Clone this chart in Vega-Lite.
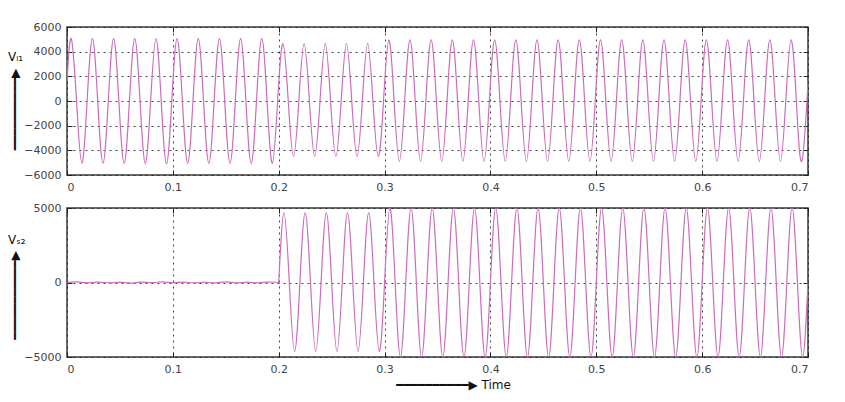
{
  "$schema": "https://vega.github.io/schema/vega-lite/v6.json",
  "padding": {"left": 7, "top": 20, "right": 5, "bottom": 5},
  "background": "white",
  "spacing": 33,
  "bounds": "flush",
  "datasets": {
    "vl1": [
      {"t":0,"v":1560},
      {"t":0.004,"v":5050},{"t":0.009,"v":0},{"t":0.014,"v":-5050},{"t":0.019,"v":0},
      {"t":0.024,"v":5050},{"t":0.029,"v":0},{"t":0.034,"v":-5050},{"t":0.039,"v":0},
      {"t":0.044,"v":5050},{"t":0.049,"v":0},{"t":0.054,"v":-5050},{"t":0.059,"v":0},
      {"t":0.064,"v":5050},{"t":0.069,"v":0},{"t":0.074,"v":-5050},{"t":0.079,"v":0},
      {"t":0.084,"v":5050},{"t":0.089,"v":0},{"t":0.094,"v":-5100},{"t":0.099,"v":0},
      {"t":0.104,"v":5050},{"t":0.109,"v":0},{"t":0.114,"v":-5050},{"t":0.119,"v":0},
      {"t":0.124,"v":5050},{"t":0.129,"v":0},{"t":0.134,"v":-5050},{"t":0.139,"v":0},
      {"t":0.144,"v":5050},{"t":0.149,"v":0},{"t":0.154,"v":-5050},{"t":0.159,"v":0},
      {"t":0.164,"v":5050},{"t":0.169,"v":0},{"t":0.174,"v":-5050},{"t":0.179,"v":0},
      {"t":0.184,"v":5050},{"t":0.189,"v":0},{"t":0.194,"v":-5050},{"t":0.199,"v":0},
      {"t":0.204,"v":4650},{"t":0.209,"v":0},{"t":0.214,"v":-4500},{"t":0.219,"v":0},
      {"t":0.224,"v":4650},{"t":0.229,"v":0},{"t":0.234,"v":-4500},{"t":0.239,"v":0},
      {"t":0.244,"v":4650},{"t":0.249,"v":0},{"t":0.254,"v":-4500},{"t":0.259,"v":0},
      {"t":0.264,"v":4650},{"t":0.269,"v":0},{"t":0.274,"v":-4500},{"t":0.279,"v":0},
      {"t":0.284,"v":4650},{"t":0.289,"v":0},{"t":0.294,"v":-4500},{"t":0.299,"v":0},
      {"t":0.304,"v":4950},{"t":0.309,"v":0},{"t":0.314,"v":-4900},{"t":0.319,"v":0},
      {"t":0.324,"v":4950},{"t":0.329,"v":0},{"t":0.334,"v":-4900},{"t":0.339,"v":0},
      {"t":0.344,"v":4950},{"t":0.349,"v":0},{"t":0.354,"v":-4900},{"t":0.359,"v":0},
      {"t":0.364,"v":4950},{"t":0.369,"v":0},{"t":0.374,"v":-4900},{"t":0.379,"v":0},
      {"t":0.384,"v":4950},{"t":0.389,"v":0},{"t":0.394,"v":-4900},{"t":0.399,"v":0},
      {"t":0.404,"v":4950},{"t":0.409,"v":0},{"t":0.414,"v":-4900},{"t":0.419,"v":0},
      {"t":0.424,"v":4950},{"t":0.429,"v":0},{"t":0.434,"v":-4900},{"t":0.439,"v":0},
      {"t":0.444,"v":4950},{"t":0.449,"v":0},{"t":0.454,"v":-4900},{"t":0.459,"v":0},
      {"t":0.464,"v":4950},{"t":0.469,"v":0},{"t":0.474,"v":-4900},{"t":0.479,"v":0},
      {"t":0.484,"v":4950},{"t":0.489,"v":0},{"t":0.494,"v":-4900},{"t":0.499,"v":0},
      {"t":0.504,"v":4950},{"t":0.509,"v":0},{"t":0.514,"v":-4900},{"t":0.519,"v":0},
      {"t":0.524,"v":4950},{"t":0.529,"v":0},{"t":0.534,"v":-4900},{"t":0.539,"v":0},
      {"t":0.544,"v":4950},{"t":0.549,"v":0},{"t":0.554,"v":-4900},{"t":0.559,"v":0},
      {"t":0.564,"v":4950},{"t":0.569,"v":0},{"t":0.574,"v":-4900},{"t":0.579,"v":0},
      {"t":0.584,"v":4950},{"t":0.589,"v":0},{"t":0.594,"v":-4900},{"t":0.599,"v":0},
      {"t":0.604,"v":4950},{"t":0.609,"v":0},{"t":0.614,"v":-4900},{"t":0.619,"v":0},
      {"t":0.624,"v":4950},{"t":0.629,"v":0},{"t":0.634,"v":-4900},{"t":0.639,"v":0},
      {"t":0.644,"v":4950},{"t":0.649,"v":0},{"t":0.654,"v":-4900},{"t":0.659,"v":0},
      {"t":0.664,"v":4950},{"t":0.669,"v":0},{"t":0.674,"v":-4900},{"t":0.679,"v":0},
      {"t":0.684,"v":4950},{"t":0.689,"v":0},{"t":0.694,"v":-4900},{"t":0.699,"v":0},
      {"t":0.7,"v":1530}
    ],
    "vs2": [
      {"seg":"a","t":0,"v":10},{"seg":"a","t":0.01,"v":40},{"seg":"a","t":0.02,"v":-20},{"seg":"a","t":0.03,"v":30},{"seg":"a","t":0.04,"v":-30},
      {"seg":"a","t":0.05,"v":20},{"seg":"a","t":0.06,"v":-40},{"seg":"a","t":0.07,"v":30},{"seg":"a","t":0.08,"v":-10},{"seg":"a","t":0.09,"v":40},
      {"seg":"a","t":0.1,"v":-20},{"seg":"a","t":0.11,"v":30},{"seg":"a","t":0.12,"v":-30},{"seg":"a","t":0.13,"v":20},{"seg":"a","t":0.14,"v":-20},
      {"seg":"a","t":0.15,"v":40},{"seg":"a","t":0.16,"v":-30},{"seg":"a","t":0.17,"v":20},{"seg":"a","t":0.18,"v":-20},{"seg":"a","t":0.19,"v":30},
      {"seg":"a","t":0.2,"v":0},
      {"seg":"b","t":0.2,"v":0},
      {"seg":"b","t":0.205,"v":4680},{"seg":"b","t":0.21,"v":0},{"seg":"b","t":0.215,"v":-4620},{"seg":"b","t":0.22,"v":0},
      {"seg":"b","t":0.225,"v":4680},{"seg":"b","t":0.23,"v":0},{"seg":"b","t":0.235,"v":-4620},{"seg":"b","t":0.24,"v":0},
      {"seg":"b","t":0.245,"v":4680},{"seg":"b","t":0.25,"v":0},{"seg":"b","t":0.255,"v":-4620},{"seg":"b","t":0.26,"v":0},
      {"seg":"b","t":0.265,"v":4680},{"seg":"b","t":0.27,"v":0},{"seg":"b","t":0.275,"v":-4620},{"seg":"b","t":0.28,"v":0},
      {"seg":"b","t":0.285,"v":4680},{"seg":"b","t":0.29,"v":0},{"seg":"b","t":0.295,"v":-4620},{"seg":"b","t":0.3,"v":0},
      {"seg":"b","t":0.305,"v":5000},{"seg":"b","t":0.31,"v":0},{"seg":"b","t":0.315,"v":-5000},{"seg":"b","t":0.32,"v":0},
      {"seg":"b","t":0.325,"v":5000},{"seg":"b","t":0.33,"v":0},{"seg":"b","t":0.335,"v":-5000},{"seg":"b","t":0.34,"v":0},
      {"seg":"b","t":0.345,"v":5000},{"seg":"b","t":0.35,"v":0},{"seg":"b","t":0.355,"v":-5000},{"seg":"b","t":0.36,"v":0},
      {"seg":"b","t":0.365,"v":5000},{"seg":"b","t":0.37,"v":0},{"seg":"b","t":0.375,"v":-5000},{"seg":"b","t":0.38,"v":0},
      {"seg":"b","t":0.385,"v":5000},{"seg":"b","t":0.39,"v":0},{"seg":"b","t":0.395,"v":-5000},{"seg":"b","t":0.4,"v":0},
      {"seg":"b","t":0.405,"v":5000},{"seg":"b","t":0.41,"v":0},{"seg":"b","t":0.415,"v":-5000},{"seg":"b","t":0.42,"v":0},
      {"seg":"b","t":0.425,"v":5000},{"seg":"b","t":0.43,"v":0},{"seg":"b","t":0.435,"v":-5000},{"seg":"b","t":0.44,"v":0},
      {"seg":"b","t":0.445,"v":5000},{"seg":"b","t":0.45,"v":0},{"seg":"b","t":0.455,"v":-5000},{"seg":"b","t":0.46,"v":0},
      {"seg":"b","t":0.465,"v":5000},{"seg":"b","t":0.47,"v":0},{"seg":"b","t":0.475,"v":-5000},{"seg":"b","t":0.48,"v":0},
      {"seg":"b","t":0.485,"v":5000},{"seg":"b","t":0.49,"v":0},{"seg":"b","t":0.495,"v":-5000},{"seg":"b","t":0.5,"v":0},
      {"seg":"b","t":0.505,"v":5000},{"seg":"b","t":0.51,"v":0},{"seg":"b","t":0.515,"v":-5000},{"seg":"b","t":0.52,"v":0},
      {"seg":"b","t":0.525,"v":5000},{"seg":"b","t":0.53,"v":0},{"seg":"b","t":0.535,"v":-5000},{"seg":"b","t":0.54,"v":0},
      {"seg":"b","t":0.545,"v":5000},{"seg":"b","t":0.55,"v":0},{"seg":"b","t":0.555,"v":-5000},{"seg":"b","t":0.56,"v":0},
      {"seg":"b","t":0.565,"v":5000},{"seg":"b","t":0.57,"v":0},{"seg":"b","t":0.575,"v":-5000},{"seg":"b","t":0.58,"v":0},
      {"seg":"b","t":0.585,"v":5000},{"seg":"b","t":0.59,"v":0},{"seg":"b","t":0.595,"v":-5000},{"seg":"b","t":0.6,"v":0},
      {"seg":"b","t":0.605,"v":5000},{"seg":"b","t":0.61,"v":0},{"seg":"b","t":0.615,"v":-5000},{"seg":"b","t":0.62,"v":0},
      {"seg":"b","t":0.625,"v":5000},{"seg":"b","t":0.63,"v":0},{"seg":"b","t":0.635,"v":-5000},{"seg":"b","t":0.64,"v":0},
      {"seg":"b","t":0.645,"v":5000},{"seg":"b","t":0.65,"v":0},{"seg":"b","t":0.655,"v":-5000},{"seg":"b","t":0.66,"v":0},
      {"seg":"b","t":0.665,"v":5000},{"seg":"b","t":0.67,"v":0},{"seg":"b","t":0.675,"v":-5000},{"seg":"b","t":0.68,"v":0},
      {"seg":"b","t":0.685,"v":5000},{"seg":"b","t":0.69,"v":0},{"seg":"b","t":0.695,"v":-5000},{"seg":"b","t":0.7,"v":0}
    ]
  },
  "vconcat": [
    {
      "width": 741,
      "height": 148,
      "data": {"name": "vl1"},
      "title": {"text": "Vₗ₁", "anchor": "start", "frame": "group", "orient": "top", "offset": 0, "dx": -59, "dy": 52, "baseline": "alphabetic", "fontSize": 12, "font": "DejaVu Sans", "fontWeight": "normal", "color": "#111"},
      "resolve": {"scale": {"x": "independent", "y": "independent"}},
      "layer": [
        {
          "mark": {"type": "line", "interpolate": "natural", "color": "#cc6cbc", "strokeWidth": 1.2, "clip": true},
          "encoding": {
            "x": {
              "field": "t", "type": "quantitative",
              "scale": {"domain": [0, 0.7], "nice": false, "zero": false},
              "axis": {"values": [0, 0.1, 0.2, 0.3, 0.4, 0.5, 0.6, 0.7], "format": ".1~f", "title": null}
            },
            "y": {
              "field": "v", "type": "quantitative",
              "scale": {"domain": [-6000, 6000], "nice": false},
              "axis": {
                "values": [-6000, -4000, -2000, 0, 2000, 4000, 6000], "format": "d",
                "title": "━━━━━━━━━━▶",
                "titleAngle": -90, "titleAlign": "center", "titleBaseline": "middle",
                "titleX": -53, "titleY": 82, "titleFontSize": 12
              }
            }
          }
        },
        {
          "mark": {"type": "line", "opacity": 0, "clip": true},
          "encoding": {
            "x": {
              "field": "t", "type": "quantitative",
              "scale": {"domain": [0, 0.7], "nice": false, "zero": false},
              "axis": {"orient": "top", "values": [0, 0.1, 0.2, 0.3, 0.4, 0.5, 0.6, 0.7], "labels": false, "grid": false, "title": null}
            },
            "y": {
              "field": "v", "type": "quantitative",
              "scale": {"domain": [-6000, 6000], "nice": false},
              "axis": {"orient": "right", "values": [-6000, -4000, -2000, 0, 2000, 4000, 6000], "labels": false, "grid": false, "title": null}
            }
          }
        }
      ]
    },
    {
      "width": 741,
      "height": 149,
      "data": {"name": "vs2"},
      "title": {"text": "Vₛ₂", "anchor": "start", "frame": "group", "orient": "top", "offset": 0, "dx": -59, "dy": 54, "baseline": "alphabetic", "fontSize": 12, "font": "DejaVu Sans", "fontWeight": "normal", "color": "#111"},
      "resolve": {"scale": {"x": "independent", "y": "independent"}},
      "layer": [
        {
          "mark": {"type": "line", "interpolate": "natural", "color": "#cc6cbc", "strokeWidth": 1.2, "clip": true},
          "encoding": {
            "detail": {"field": "seg"},
            "x": {
              "field": "t", "type": "quantitative",
              "scale": {"domain": [0, 0.7], "nice": false, "zero": false},
              "axis": {
                "values": [0, 0.1, 0.2, 0.3, 0.4, 0.5, 0.6, 0.7], "format": ".1~f",
                "title": "━━━━━━━━━━▶ Time", "titleX": 386, "titleAlign": "center", "titleFontSize": 12, "titlePadding": 5
              }
            },
            "y": {
              "field": "v", "type": "quantitative",
              "scale": {"domain": [-5000, 5000], "nice": false},
              "axis": {
                "values": [-5000, 0, 5000], "format": "d",
                "title": "━━━━━━━━━━━▶",
                "titleAngle": -90, "titleAlign": "center", "titleBaseline": "middle",
                "titleX": -53, "titleY": 87, "titleFontSize": 12
              }
            }
          }
        },
        {
          "mark": {"type": "line", "opacity": 0, "clip": true},
          "encoding": {
            "detail": {"field": "seg"},
            "x": {
              "field": "t", "type": "quantitative",
              "scale": {"domain": [0, 0.7], "nice": false, "zero": false},
              "axis": {"orient": "top", "values": [0, 0.1, 0.2, 0.3, 0.4, 0.5, 0.6, 0.7], "labels": false, "grid": false, "title": null}
            },
            "y": {
              "field": "v", "type": "quantitative",
              "scale": {"domain": [-5000, 5000], "nice": false},
              "axis": {"orient": "right", "values": [-5000, 0, 5000], "labels": false, "grid": false, "title": null}
            }
          }
        }
      ]
    }
  ],
  "config": {
    "view": {"stroke": "#3a3a3a", "strokeWidth": 1.5},
    "axis": {
      "domain": false,
      "labelFont": "DejaVu Sans", "labelFontSize": 11, "labelColor": "#444",
      "tickColor": "#222", "tickSize": -5, "labelPadding": 11,
      "grid": true, "gridColor": "#222", "gridDash": [2, 4], "gridWidth": 1, "gridOpacity": 0.85,
      "titleFont": "DejaVu Sans", "titleColor": "#111", "titleFontWeight": "normal"
    }
  }
}
